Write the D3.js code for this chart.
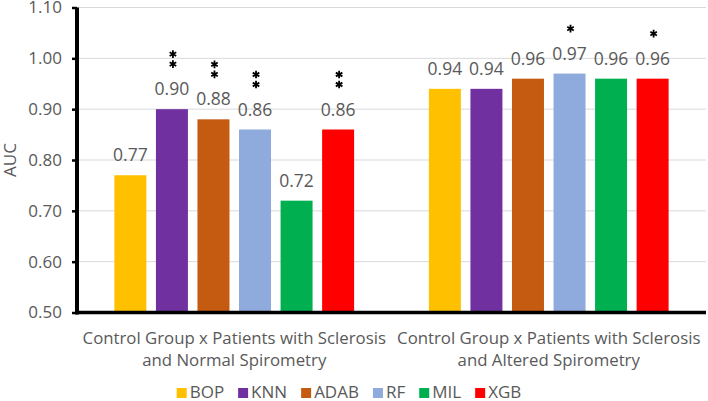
<!DOCTYPE html>
<html>
<head>
<meta charset="utf-8">
<script src="https://cdn.jsdelivr.net/npm/d3@7"></script>
<style>
body { margin: 0; background: #fff; }
svg { display: block; font-family: "Open Sans", sans-serif; }
</style>
</head>
<body>
<svg width="708" height="401"></svg>
<script>
// chart data
var categories = ["Control Group x Patients with Sclerosis|and Normal Spirometry",
                  "Control Group x Patients with Sclerosis|and Altered Spirometry"];
var models = ["BOP", "KNN", "ADAB", "RF", "MIL", "XGB"];
var colors = ["#FFC000", "#7030A0", "#C55A11", "#8FAADC", "#00B050", "#FF0000"];
var auc = [
  [0.77, 0.90, 0.88, 0.86, 0.72, 0.86],
  [0.94, 0.94, 0.96, 0.97, 0.96, 0.96]
];
var stars = [
  [0, 2, 2, 2, 0, 2],
  [0, 0, 0, 1, 0, 1]
];
var yTicks = [0.50, 0.60, 0.70, 0.80, 0.90, 1.00, 1.10];

var svg = d3.select("svg"),
    plotL = 77, plotR = 706, plotT = 7.5, plotB = 312.5,
    grey = "#595959";

var x0 = d3.scaleBand().domain(d3.range(categories.length)).range([plotL, plotR]);
var x1 = d3.scaleBand().domain(models).range([0, x0.bandwidth()])
  .paddingInner(0.23).paddingOuter(0.9);
var y = d3.scaleLinear().domain([0.5, 1.1]).range([plotB, plotT]);

// gridlines
svg.append("g").selectAll("line")
  .data(yTicks.slice(1))
  .enter().append("line")
  .attr("x1", plotL).attr("x2", plotR)
  .attr("y1", function(d) { return y(d); })
  .attr("y2", function(d) { return y(d); })
  .attr("stroke", "#d9d9d9").attr("stroke-width", 1);

// bars
var groups = svg.append("g").selectAll("g")
  .data(auc)
  .enter().append("g")
  .attr("transform", function(d, i) { return "translate(" + x0(i) + ",0)"; });

groups.selectAll("rect")
  .data(function(d) { return d; })
  .enter().append("rect")
  .attr("x", function(d, j) { return x1(models[j]); })
  .attr("width", x1.bandwidth())
  .attr("y", function(d) { return y(d); })
  .attr("height", function(d) { return plotB - y(d); })
  .attr("fill", function(d, j) { return colors[j]; });

groups.selectAll("text")
  .data(function(d) { return d; })
  .enter().append("text")
  .attr("x", function(d, j) { return x1(models[j]) + x1.bandwidth() / 2; })
  .attr("y", function(d) { return y(d) - 14; })
  .attr("text-anchor", "middle")
  .attr("font-size", 17.5)
  .attr("fill", grey)
  .text(function(d) { return d.toFixed(2); });

// significance asterisks
var star = d3.symbol().type(d3.symbolAsterisk).size(40);
groups.each(function(row, i) {
  var g = d3.select(this);
  row.forEach(function(v, j) {
    for (var k = 0; k < stars[i][j]; k++) {
      g.append("path")
        .attr("d", star)
        .attr("transform", "translate(" + (x1(models[j]) + x1.bandwidth() / 2 + 1) + "," +
              (y(v) - 14 - 31 - k * 10) + ")")
        .attr("fill", "none")
        .attr("stroke", "#000")
        .attr("stroke-width", 1.8);
    }
  });
});

// y axis
var yAxis = d3.axisLeft(y).tickValues(yTicks).tickSize(5).tickFormat(d3.format(".2f"));
var ya = svg.append("g").attr("transform", "translate(" + plotL + ",0)").call(yAxis);
ya.select(".domain").remove();
ya.selectAll(".tick line").attr("stroke", "#000").attr("stroke-width", 2.5);
ya.selectAll(".tick text").attr("x", -15).attr("font-size", 17)
  .attr("font-family", "Open Sans").attr("fill", grey);

svg.append("line")
  .attr("x1", plotL).attr("x2", plotL).attr("y1", plotT).attr("y2", plotB + 2)
  .attr("stroke", "#000").attr("stroke-width", 4);
svg.append("line")
  .attr("x1", plotL - 2).attr("x2", plotR).attr("y1", plotB).attr("y2", plotB)
  .attr("stroke", "#000").attr("stroke-width", 3.5);

svg.append("text")
  .attr("transform", "translate(16," + ((plotT + plotB) / 2) + ") rotate(-90)")
  .attr("text-anchor", "middle")
  .attr("font-size", 17)
  .attr("fill", grey)
  .text("AUC");

// category labels
categories.forEach(function(c, i) {
  var t = svg.append("text")
    .attr("text-anchor", "middle")
    .attr("font-size", 16.8)
    .attr("fill", grey);
  c.split("|").forEach(function(line, k) {
    t.append("tspan")
      .attr("x", x0(i) + x0.bandwidth() / 2)
      .attr("y", 344 + k * 22)
      .text(line);
  });
});

// legend
var legend = svg.append("g");
var lx = 0;
models.forEach(function(m, j) {
  legend.append("rect")
    .attr("x", lx).attr("y", 388).attr("width", 10).attr("height", 10)
    .attr("fill", colors[j]);
  var t = legend.append("text")
    .attr("x", lx + 13).attr("y", 398)
    .attr("font-size", 17)
    .attr("fill", grey)
    .text(m);
  lx += 13 + t.node().getComputedTextLength() + 14;
});
lx -= 14;
legend.attr("transform", "translate(" + (349 - lx / 2) + ",0)");
</script>
</body>
</html>
